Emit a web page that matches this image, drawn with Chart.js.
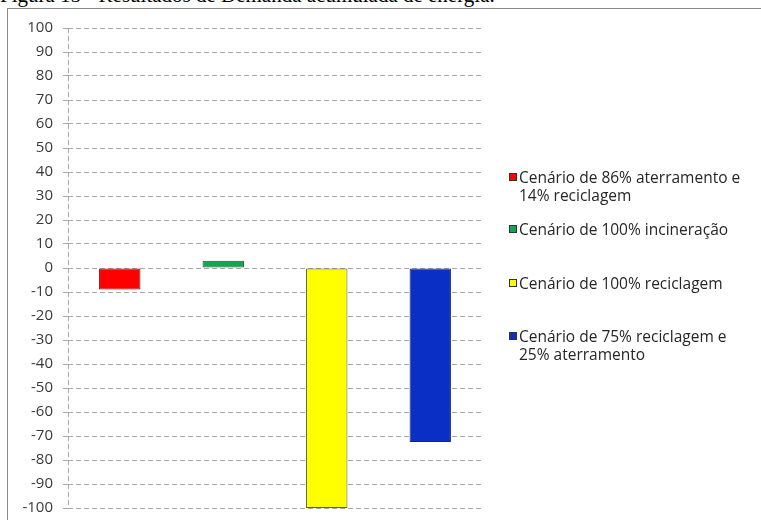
<!DOCTYPE html>
<html>
<head>
<meta charset="utf-8">
<script src="https://cdn.jsdelivr.net/npm/chart.js@4.4.1/dist/chart.umd.min.js"></script>
<style>
  body{margin:0;width:761px;height:520px;overflow:hidden;background:#fff;position:relative;font-family:"Open Sans",sans-serif}
  #title{position:absolute;left:0;top:-15px;font:21px/21px "Liberation Serif",serif;white-space:nowrap;color:#000}
  #frame{position:absolute;left:7px;top:8px;width:780px;height:540px;border-left:1px solid #8a8a8a;border-top:1px solid #8a8a8a}
  #wrap{position:absolute;left:8px;top:9px;width:753px;height:518px}
  .item{position:absolute;left:509px;font-size:15.5px;line-height:18px;color:#262626;white-space:nowrap}
  .item i{position:absolute;left:0;top:5px;width:6px;height:6px;border:1px solid #333}
  .item span{display:block;margin-left:10px}
</style>
</head>
<body>
<div id="title">Figura 15 - Resultados de Demanda acumulada de energia.</div>
<div id="frame"></div>
<div id="wrap"><canvas id="c" width="753" height="518"></canvas></div>
<div id="legend"></div>
<script>
const qs = (sel)=> document.querySelector(sel);
const ce = (tag)=> document.createElement(tag);

// scenarios (one bar each) and their accumulated energy demand
const scenarios = [
  ['Cenário de 86% aterramento e', '14% reciclagem'],
  ['Cenário de 100% incineração'],
  ['Cenário de 100% reciclagem'],
  ['Cenário de 75% reciclagem e', '25% aterramento']
];
const demand = [-9, 3, -100, -72.5];
const yMin = -100, yMax = 100, yStep = 10;

const fills = ['#ff0000', '#10a84f', '#ffff00', '#0a2fc4'];
const edges = ['#7a1010', '#1d4d30', '#5a5a40', '#1b2a6e'];
const legendTops = [168, 220, 274, 327];

// ---------- legend ----------
scenarios.forEach((lines, i)=>{
  const it = ce('div'); it.className = 'item'; it.style.top = legendTops[i] + 'px';
  const box = ce('i'); box.style.background = fills[i];
  it.appendChild(box);
  lines.forEach(t=>{ const s = ce('span'); s.textContent = t; it.appendChild(s); });
  qs('#legend').appendChild(it);
});

// ---------- chart ----------
const gridGray = '#a8a8a8';
new Chart(qs('#c'), {
  type: 'bar',
  data: {
    labels: scenarios,
    datasets: [{
      data: demand,
      backgroundColor: fills,
      borderColor: edges,
      borderWidth: 1,
      borderSkipped: false,
      categoryPercentage: 1,
      barPercentage: 0.4
    }]
  },
  options: {
    responsive: false,
    animation: false,
    layout: { padding: { top: 18, bottom: 6, right: 279, left: 0 } },
    plugins: { legend: { display: false }, tooltip: { enabled: false } },
    scales: {
      x: {
        ticks: { display: false },
        grid: { drawTicks: false, color: (c)=> c.index === 0 ? gridGray : 'transparent' },
        border: { display: false, dash: [5, 3] }
      },
      y: {
        min: yMin, max: yMax,
        ticks: { stepSize: yStep, padding: 10, color: '#3a3a3a', font: { family: 'Open Sans', size: 15 } },
        grid: { color: gridGray, tickLength: 5 },
        border: { display: false, dash: [5, 3] },
        afterFit: (s)=> { s.width = 60; }
      }
    }
  }
});
</script>
</body>
</html>
